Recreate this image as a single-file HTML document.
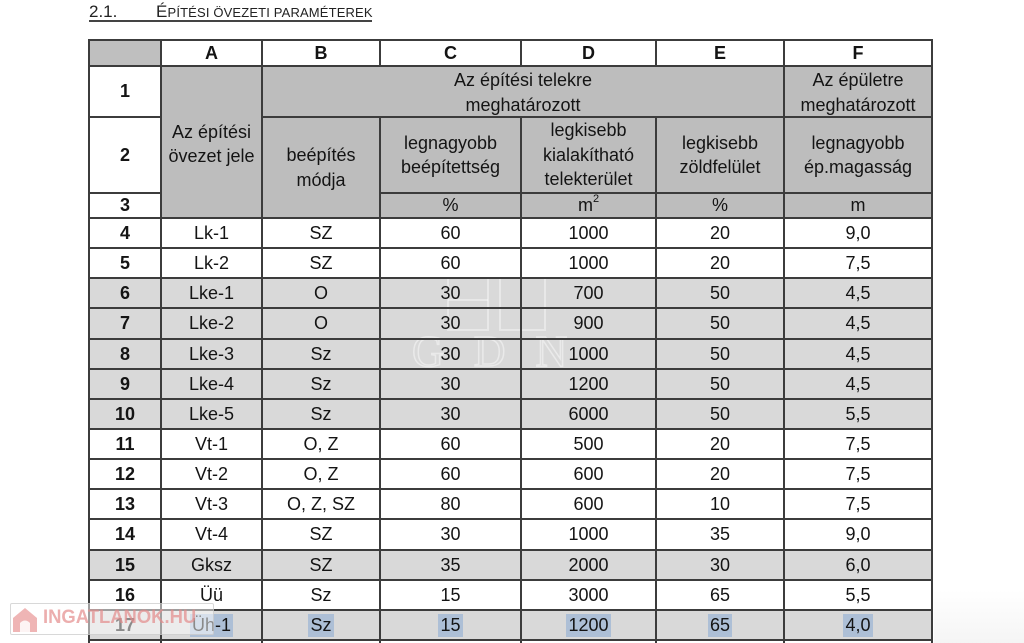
<!DOCTYPE html>
<html><head><meta charset="utf-8">
<style>
html,body{margin:0;padding:0;background:#fff;}
body{width:1024px;height:643px;position:relative;overflow:hidden;font-family:"Liberation Sans",Arial,sans-serif;color:#141414;}
.bg{position:absolute;}
.hl,.vl{position:absolute;background:#3c3c3c;}
.hl{height:2px;}
.vl{width:2px;}
.t{position:absolute;display:flex;align-items:center;justify-content:center;text-align:center;font-size:18px;line-height:24.5px;}
.r{position:absolute;left:0;width:1024px;}
.r .t{top:0;height:100%;}
.n{left:89px;width:72px;font-weight:bold;}
.a{left:161px;width:101px;}
.b{left:262px;width:118px;}
.c{left:380px;width:141px;}
.d{left:521px;width:135px;}
.e{left:656px;width:128px;}
.f{left:784px;width:148px;}
.g{background:#d9d9d9;}
.h{font-weight:bold;}
.sel{background:rgba(120,160,210,0.45);display:inline-block;line-height:23px;padding:0 2px;}
</style></head>
<body>
<!-- title -->
<div style="position:absolute;left:89px;top:2px;font-size:17px;line-height:20px;color:#222;">2.1.</div>
<div style="position:absolute;left:156px;top:2px;line-height:20px;color:#222;white-space:nowrap;letter-spacing:0.15px;"><span style="font-size:17px;">É</span><span style="font-size:13px;">PÍTÉSI ÖVEZETI PARAMÉTEREK</span></div>
<div style="position:absolute;left:89px;top:20px;width:283px;height:1.5px;background:#444;"></div>

<!-- header backgrounds -->
<div class="bg" style="left:89px;top:40px;width:72px;height:26px;background:#bfbfbf;"></div>
<div class="bg" style="left:161px;top:66px;width:771px;height:152px;background:#bdbdbd;"></div>

<!-- body gray rows -->
<div class="bg g" style="left:89px;top:278px;width:843px;height:151px;"></div>
<div class="bg g" style="left:89px;top:550px;width:843px;height:30px;"></div>
<div class="bg g" style="left:89px;top:610px;width:843px;height:30px;"></div>

<!-- GDN watermark -->
<svg style="position:absolute;left:0;top:0;" width="1024" height="643">
<g fill="none" stroke="rgba(255,255,255,0.4)" stroke-width="2">
<rect x="448" y="272" width="40" height="58"/>
<rect x="500" y="272" width="45" height="58"/>
<line x1="448" y1="300" x2="488" y2="300"/>
</g>
<text x="412" y="366" font-family="Liberation Serif,serif" font-size="44" letter-spacing="30" fill="none" stroke="rgba(255,255,255,0.45)" stroke-width="1.5">GDN</text>
</svg>

<!-- header texts -->
<div class="t h" style="left:161px;top:40px;width:101px;height:26px;">A</div>
<div class="t h" style="left:262px;top:40px;width:118px;height:26px;">B</div>
<div class="t h" style="left:380px;top:40px;width:141px;height:26px;">C</div>
<div class="t h" style="left:521px;top:40px;width:135px;height:26px;">D</div>
<div class="t h" style="left:656px;top:40px;width:128px;height:26px;">E</div>
<div class="t h" style="left:784px;top:40px;width:148px;height:26px;">F</div>

<div class="t h" style="left:89px;top:66px;width:72px;height:51px;">1</div>
<div class="t h" style="left:89px;top:117px;width:72px;height:76px;">2</div>
<div class="t h" style="left:89px;top:193px;width:72px;height:25px;">3</div>

<div class="t" style="left:161px;top:66px;width:101px;height:156px;">Az építési<br>övezet jele</div>
<div class="t" style="left:262px;top:67px;width:522px;height:51px;">Az építési telekre<br>meghatározott</div>
<div class="t" style="left:784px;top:67px;width:148px;height:51px;">Az épületre<br>meghatározott</div>
<div class="t" style="left:262px;top:117px;width:118px;height:101px;">beépítés<br>módja</div>
<div class="t" style="left:380px;top:117px;width:141px;height:76px;">legnagyobb<br>beépítettség</div>
<div class="t" style="left:521px;top:117px;width:135px;height:76px;">legkisebb<br>kialakítható<br>telekterület</div>
<div class="t" style="left:656px;top:117px;width:128px;height:76px;">legkisebb<br>zöldfelület</div>
<div class="t" style="left:784px;top:117px;width:148px;height:76px;">legnagyobb<br>ép.magasság</div>
<div class="t" style="left:380px;top:193px;width:141px;height:25px;">%</div>
<div class="t" style="left:521px;top:193px;width:135px;height:25px;">m<span style="font-size:11px;position:relative;top:-6px;">2</span></div>
<div class="t" style="left:656px;top:193px;width:128px;height:25px;">%</div>
<div class="t" style="left:784px;top:193px;width:148px;height:25px;">m</div>

<!-- body rows -->
<div class="r" style="top:218px;height:30px;"><div class="t n">4</div><div class="t a">Lk-1</div><div class="t b">SZ</div><div class="t c">60</div><div class="t d">1000</div><div class="t e">20</div><div class="t f">9,0</div></div>
<div class="r" style="top:248px;height:30px;"><div class="t n">5</div><div class="t a">Lk-2</div><div class="t b">SZ</div><div class="t c">60</div><div class="t d">1000</div><div class="t e">20</div><div class="t f">7,5</div></div>
<div class="r" style="top:278px;height:30px;"><div class="t n">6</div><div class="t a">Lke-1</div><div class="t b">O</div><div class="t c">30</div><div class="t d">700</div><div class="t e">50</div><div class="t f">4,5</div></div>
<div class="r" style="top:308px;height:31px;"><div class="t n">7</div><div class="t a">Lke-2</div><div class="t b">O</div><div class="t c">30</div><div class="t d">900</div><div class="t e">50</div><div class="t f">4,5</div></div>
<div class="r" style="top:339px;height:30px;"><div class="t n">8</div><div class="t a">Lke-3</div><div class="t b">Sz</div><div class="t c">30</div><div class="t d">1000</div><div class="t e">50</div><div class="t f">4,5</div></div>
<div class="r" style="top:369px;height:30px;"><div class="t n">9</div><div class="t a">Lke-4</div><div class="t b">Sz</div><div class="t c">30</div><div class="t d">1200</div><div class="t e">50</div><div class="t f">4,5</div></div>
<div class="r" style="top:399px;height:30px;"><div class="t n">10</div><div class="t a">Lke-5</div><div class="t b">Sz</div><div class="t c">30</div><div class="t d">6000</div><div class="t e">50</div><div class="t f">5,5</div></div>
<div class="r" style="top:429px;height:30px;"><div class="t n">11</div><div class="t a">Vt-1</div><div class="t b">O, Z</div><div class="t c">60</div><div class="t d">500</div><div class="t e">20</div><div class="t f">7,5</div></div>
<div class="r" style="top:459px;height:30px;"><div class="t n">12</div><div class="t a">Vt-2</div><div class="t b">O, Z</div><div class="t c">60</div><div class="t d">600</div><div class="t e">20</div><div class="t f">7,5</div></div>
<div class="r" style="top:489px;height:30px;"><div class="t n">13</div><div class="t a">Vt-3</div><div class="t b">O, Z, SZ</div><div class="t c">80</div><div class="t d">600</div><div class="t e">10</div><div class="t f">7,5</div></div>
<div class="r" style="top:519px;height:31px;"><div class="t n">14</div><div class="t a">Vt-4</div><div class="t b">SZ</div><div class="t c">30</div><div class="t d">1000</div><div class="t e">35</div><div class="t f">9,0</div></div>
<div class="r" style="top:550px;height:30px;"><div class="t n">15</div><div class="t a">Gksz</div><div class="t b">SZ</div><div class="t c">35</div><div class="t d">2000</div><div class="t e">30</div><div class="t f">6,0</div></div>
<div class="r" style="top:580px;height:30px;"><div class="t n">16</div><div class="t a">Üü</div><div class="t b">Sz</div><div class="t c">15</div><div class="t d">3000</div><div class="t e">65</div><div class="t f">5,5</div></div>
<div class="r" style="top:610px;height:30px;"><div class="t n">17</div><div class="t a"><span class="sel">Üh-1</span></div><div class="t b"><span class="sel">Sz</span></div><div class="t c"><span class="sel">15</span></div><div class="t d"><span class="sel">1200</span></div><div class="t e"><span class="sel">65</span></div><div class="t f"><span class="sel">4,0</span></div></div>

<!-- horizontal lines -->
<div class="hl" style="left:88px;top:39px;width:845px;"></div>
<div class="hl" style="left:88px;top:65px;width:845px;"></div>
<div class="hl" style="left:88px;top:116px;width:74px;"></div>
<div class="hl" style="left:261px;top:116px;width:672px;"></div>
<div class="hl" style="left:88px;top:192px;width:74px;"></div>
<div class="hl" style="left:379px;top:192px;width:554px;"></div>
<div class="hl" style="left:88px;top:217px;width:845px;"></div>
<div class="hl" style="left:88px;top:247px;width:845px;"></div>
<div class="hl" style="left:88px;top:277px;width:845px;"></div>
<div class="hl" style="left:88px;top:307px;width:845px;"></div>
<div class="hl" style="left:88px;top:338px;width:845px;"></div>
<div class="hl" style="left:88px;top:368px;width:845px;"></div>
<div class="hl" style="left:88px;top:398px;width:845px;"></div>
<div class="hl" style="left:88px;top:428px;width:845px;"></div>
<div class="hl" style="left:88px;top:458px;width:845px;"></div>
<div class="hl" style="left:88px;top:488px;width:845px;"></div>
<div class="hl" style="left:88px;top:518px;width:845px;"></div>
<div class="hl" style="left:88px;top:549px;width:845px;"></div>
<div class="hl" style="left:88px;top:579px;width:845px;"></div>
<div class="hl" style="left:88px;top:609px;width:845px;"></div>
<div class="hl" style="left:88px;top:639px;width:845px;"></div>

<!-- vertical lines -->
<div class="vl" style="left:88px;top:39px;height:604px;"></div>
<div class="vl" style="left:160px;top:39px;height:604px;"></div>
<div class="vl" style="left:261px;top:39px;height:604px;"></div>
<div class="vl" style="left:379px;top:39px;height:27px;"></div>
<div class="vl" style="left:379px;top:116px;height:527px;"></div>
<div class="vl" style="left:520px;top:39px;height:27px;"></div>
<div class="vl" style="left:520px;top:116px;height:527px;"></div>
<div class="vl" style="left:655px;top:39px;height:27px;"></div>
<div class="vl" style="left:655px;top:116px;height:527px;"></div>
<div class="vl" style="left:783px;top:39px;height:604px;"></div>
<div class="vl" style="left:931px;top:39px;height:604px;"></div>

<!-- bottom right soft shade -->
<div style="position:absolute;left:934px;top:590px;width:90px;height:53px;background:linear-gradient(to bottom,rgba(245,245,245,0),rgba(242,242,242,0.8));"></div>

<!-- INGATLANOK.HU watermark -->
<div style="position:absolute;left:10px;top:603px;width:202px;height:30px;background:rgba(255,255,255,0.5);border:1px solid rgba(190,190,190,0.6);border-radius:2px;"></div>
<svg style="position:absolute;left:11px;top:605px;" width="28" height="28">
<path d="M2 13 L14 3 L26 13 L26 27 L2 27 Z" fill="rgba(232,150,150,0.7)"/>
<path d="M9 27 L9 18 Q14 13 19 18 L19 27 Z" fill="rgba(255,255,255,0.85)"/>
</svg>
<div style="position:absolute;left:43px;top:606px;font-size:19px;font-weight:bold;line-height:24px;color:rgba(228,140,140,0.7);white-space:nowrap;transform:scaleX(0.97);transform-origin:left center;">INGATLANOK.HU</div>
</body></html>
